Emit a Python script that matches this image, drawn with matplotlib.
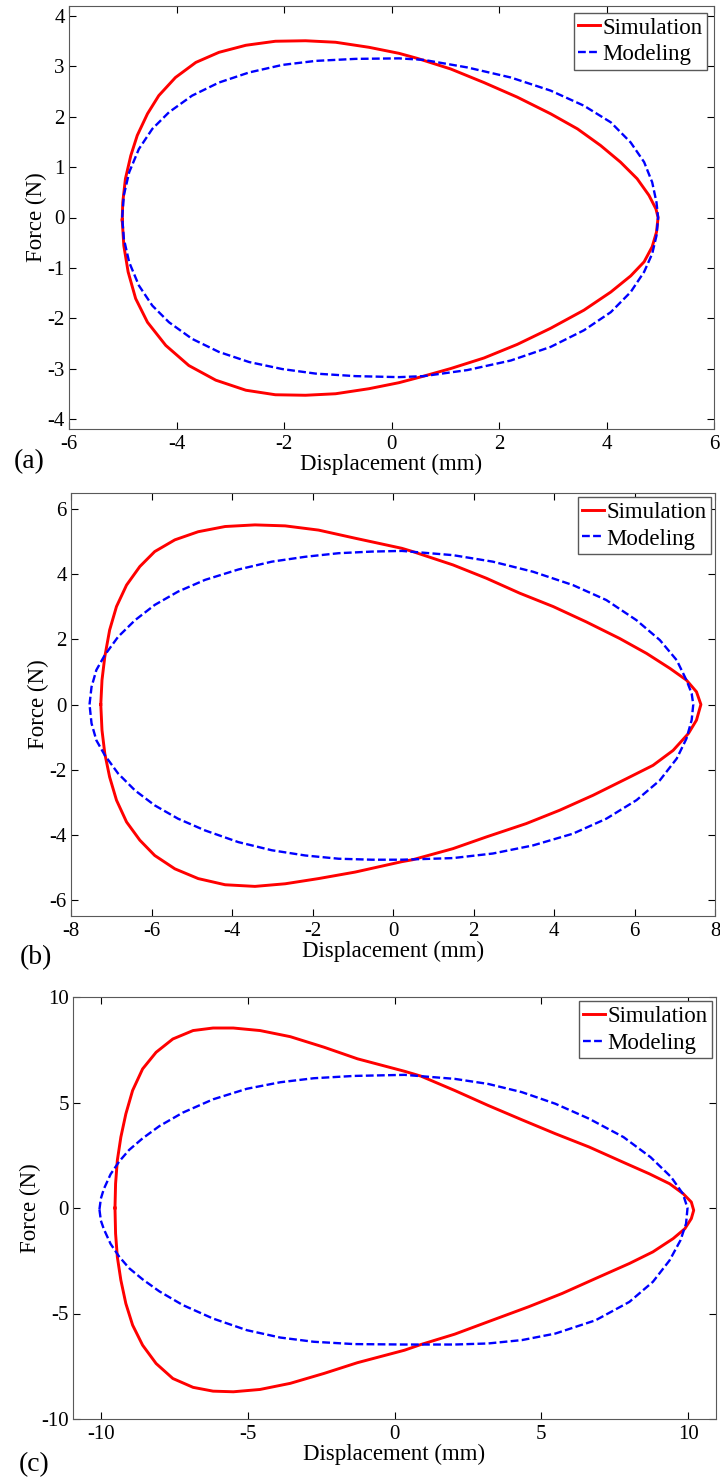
import numpy as np
import matplotlib
matplotlib.use("Agg")
import matplotlib.pyplot as plt

plt.rcParams['font.family'] = ['Liberation Serif', 'DejaVu Serif']
plt.rcParams['axes.unicode_minus'] = False

# ---- panel (a) ----  (loops: upper branch left->right, then lower branch right->left)
sim_a_x = [-5.01, -5.0, -4.95, -4.85, -4.73, -4.54, -4.33, -4.02, -3.64, -3.21, -2.71, -2.16, -1.6, -1.04,
           -0.42, 0.14, 0.48, 1.1, 1.72, 2.34, 2.96, 3.46, 3.89, 4.26, 4.57, 4.79, 4.92, 4.96,
           4.93, 4.85, 4.7, 4.45, 4.08, 3.58, 2.96, 2.34, 1.72, 1.1, 0.6, 0.14, -0.42, -1.04, -1.6,
           -2.16, -2.71, -3.27, -3.77, -4.2, -4.54, -4.76, -4.9, -4.98, -5.01]
sim_a_y = [-0.05, 0.3, 0.77, 1.23, 1.63, 2.06, 2.42, 2.78, 3.08, 3.28, 3.42, 3.5, 3.51, 3.48,
           3.38, 3.26, 3.16, 2.95, 2.68, 2.39, 2.06, 1.76, 1.43, 1.1, 0.77, 0.44, 0.17, 0.0,
           -0.29, -0.58, -0.88, -1.16, -1.48, -1.84, -2.2, -2.52, -2.79, -3.0, -3.15, -3.28, -3.4, -3.5, -3.53,
           -3.52, -3.43, -3.23, -2.94, -2.54, -2.08, -1.61, -1.08, -0.56, -0.05]
mod_a_x = [-5.01, -4.98, -4.88, -4.7, -4.45, -4.14, -3.71, -3.21, -2.65, -2.03, -1.41, -0.67, 0.14, 0.6,
           1.41, 2.22, 2.96, 3.58, 4.08, 4.45, 4.7, 4.85, 4.93, 4.96, 4.93, 4.85, 4.7, 4.45, 4.08,
           3.58, 2.96, 2.22, 1.41, 0.6, 0.14, -0.67, -1.41, -2.03, -2.65, -3.21, -3.71, -4.14, -4.45,
           -4.7, -4.88, -4.98, -5.01]
mod_a_y = [0.0, 0.44, 0.9, 1.36, 1.76, 2.09, 2.42, 2.68, 2.88, 3.03, 3.11, 3.15, 3.16, 3.13,
           2.98, 2.78, 2.52, 2.22, 1.89, 1.49, 1.1, 0.7, 0.3, 0.0, -0.36, -0.72, -1.08, -1.48, -1.88,
           -2.24, -2.57, -2.84, -3.03, -3.15, -3.17, -3.15, -3.1, -3.01, -2.87, -2.67, -2.41, -2.08, -1.75,
           -1.35, -0.89, -0.42, 0.0]

# ---- panel (b) ----
sim_b_x = [-7.26, -7.23, -7.16, -7.04, -6.87, -6.62, -6.29, -5.92, -5.42, -4.84, -4.17, -3.43, -2.68, -1.85,
           -0.94, 0.22, 0.49, 1.49, 2.32, 3.15, 3.98, 4.8, 5.63, 6.3, 6.88, 7.29, 7.54, 7.65,
           7.54, 7.34, 6.96, 6.46, 5.8, 4.97, 4.14, 3.31, 2.32, 1.49, 0.49, 0.22, -0.94, -1.85, -2.68,
           -3.43, -4.17, -4.84, -5.42, -5.92, -6.29, -6.62, -6.87, -7.04, -7.16, -7.23, -7.26]
sim_b_y = [0.0, 0.75, 1.47, 2.29, 3.01, 3.67, 4.24, 4.7, 5.06, 5.31, 5.47, 5.52, 5.49, 5.36,
           5.11, 4.8, 4.7, 4.29, 3.88, 3.42, 3.01, 2.54, 2.03, 1.57, 1.11, 0.75, 0.39, 0.0,
           -0.48, -0.89, -1.41, -1.87, -2.28, -2.79, -3.25, -3.66, -4.07, -4.43, -4.77, -4.83, -5.15, -5.35, -5.51,
           -5.59, -5.54, -5.35, -5.05, -4.64, -4.17, -3.61, -2.94, -2.23, -1.51, -0.79, 0.0]
mod_b_x = [-7.54, -7.49, -7.37, -7.16, -6.83, -6.41, -5.92, -5.34, -4.67, -3.84, -3.01, -2.18, -1.35, -0.52,
           0.22, 1.49, 2.48, 3.48, 4.47, 5.3, 6.05, 6.63, 7.05, 7.29, 7.42, 7.46, 7.42, 7.29, 7.05,
           6.63, 6.05, 5.3, 4.47, 3.48, 2.48, 1.49, 0.22, -0.52, -1.35, -2.18, -3.01, -3.84, -4.67,
           -5.34, -5.92, -6.41, -6.83, -7.16, -7.37, -7.49, -7.54]
mod_b_y = [0.0, 0.54, 1.06, 1.52, 2.08, 2.59, 3.06, 3.47, 3.83, 4.15, 4.39, 4.54, 4.65, 4.7,
           4.72, 4.59, 4.39, 4.08, 3.67, 3.21, 2.59, 1.98, 1.36, 0.75, 0.34, 0.0, -0.48, -1.05, -1.66,
           -2.33, -2.94, -3.51, -3.97, -4.33, -4.58, -4.72, -4.77, -4.77, -4.74, -4.64, -4.48, -4.23, -3.87,
           -3.51, -3.1, -2.64, -2.12, -1.56, -1.1, -0.58, 0.0]

# ---- panel (c) ----
sim_c_x = [-9.52, -9.5, -9.44, -9.32, -9.15, -8.92, -8.58, -8.12, -7.55, -6.86, -6.18, -5.49, -4.58, -3.55,
           -2.4, -1.26, 0.34, 0.9, 2.05, 3.19, 4.34, 5.48, 6.63, 7.77, 8.68, 9.37, 9.83, 10.11, 10.19,
           10.11, 9.89, 9.49, 8.8, 8.0, 6.85, 5.71, 4.57, 3.19, 2.05, 0.9, 0.34, -1.26, -2.4, -3.55,
           -4.58, -5.49, -6.18, -6.86, -7.55, -8.12, -8.58, -8.92, -9.15, -9.32, -9.44, -9.5, -9.52]
sim_c_y = [0.0, 1.15, 2.26, 3.36, 4.46, 5.57, 6.59, 7.38, 8.01, 8.41, 8.53, 8.53, 8.41, 8.12,
           7.62, 7.07, 6.48, 6.25, 5.57, 4.86, 4.18, 3.52, 2.89, 2.18, 1.62, 1.15, 0.68, 0.28, -0.11,
           -0.5, -0.98, -1.45, -2.08, -2.63, -3.34, -4.05, -4.68, -5.39, -5.98, -6.47, -6.74, -7.33, -7.84, -8.31,
           -8.6, -8.71, -8.68, -8.5, -8.08, -7.37, -6.5, -5.55, -4.53, -3.42, -2.32, -1.21, 0.0]
mod_c_x = [-10.05, -10.0, -9.9, -9.67, -9.38, -9.04, -8.58, -8.01, -7.21, -6.18, -5.03, -3.89, -2.75, -1.37,
           0.34, 2.05, 3.19, 4.34, 5.48, 6.63, 7.8, 8.72, 9.42, 9.82, 9.98, 9.93, 9.74, 9.37, 8.8,
           8.0, 6.85, 5.48, 4.34, 3.19, 2.05, 0.34, -1.37, -2.75, -3.89, -5.03, -6.18, -7.21, -8.01,
           -8.58, -9.04, -9.38, -9.67, -9.9, -10.0, -10.05]
mod_c_y = [-0.07, 0.45, 0.9, 1.6, 2.2, 2.75, 3.3, 3.88, 4.52, 5.15, 5.65, 5.96, 6.15, 6.26,
           6.31, 6.12, 5.88, 5.49, 4.94, 4.23, 3.36, 2.41, 1.47, 0.68, 0.0, -0.74, -1.53, -2.48, -3.5,
           -4.45, -5.32, -5.95, -6.26, -6.42, -6.47, -6.47, -6.45, -6.34, -6.14, -5.79, -5.24, -4.6, -3.95,
           -3.38, -2.85, -2.3, -1.7, -1.0, -0.6, -0.07]

panels = [
    ("(a)", sim_a_x, sim_a_y, mod_a_x, mod_a_y, (-6, 6), (-4.2, 4.2),
     [-6, -4, -2, 0, 2, 4, 6], [-4, -3, -2, -1, 0, 1, 2, 3, 4]),
    ("(b)", sim_b_x, sim_b_y, mod_b_x, mod_b_y, (-8, 8), (-6.5, 6.5),
     [-8, -6, -4, -2, 0, 2, 4, 6, 8], [-6, -4, -2, 0, 2, 4, 6]),
    ("(c)", sim_c_x, sim_c_y, mod_c_x, mod_c_y, (-10.95, 10.95), (-10, 10),
     [-10, -5, 0, 5, 10], [-10, -5, 0, 5, 10]),
]

W, H = 720, 1484
fig = plt.figure(figsize=(W / 100, H / 100), dpi=100)

# axes boxes in pixels: left, top, right, bottom
boxes = [(69, 6, 714, 429), (71, 493, 715, 916), (73, 997, 716, 1419)]
tags = [(29, 462), (36, 958), (34, 1465)]
leg_pad = [0.3, 0.18, 0.18]

for i, (tag, sx, sy, mx, my, xl, yl, xt, yt) in enumerate(panels):
    l, t, r, b = boxes[i]
    ax = fig.add_axes([l / W, 1 - b / H, (r - l) / W, (b - t) / H])
    ax.plot(sx, sy, color='red', lw=2.1, label='Simulation', solid_joinstyle='round')
    ax.plot(mx, my, color='blue', lw=1.7, ls=(0, (3.3, 1.4)), label='Modeling')
    ax.set_xlim(*xl)
    ax.set_ylim(*yl)
    ax.set_xticks(xt)
    ax.set_yticks(yt)
    ax.tick_params(direction='in', top=True, right=True, length=5, width=0.8,
                   labelsize=15, pad=4)
    ax.tick_params(axis='y', pad=3)
    for s in ax.spines.values():
        s.set_linewidth(0.8)
        s.set_color('0.35')
    ax.set_xlabel('Displacement (mm)', fontsize=16.5, labelpad=0)
    ax.set_ylabel('Force (N)', fontsize=16.5, labelpad=0)
    ax.legend(loc='upper right', fontsize=16.5, handlelength=0.95, handletextpad=0.1,
              labelspacing=0.25, borderpad=0.2, borderaxespad=leg_pad[i],
              fancybox=False, edgecolor='0.35', framealpha=1)
    fig.text(tags[i][0] / W, 1 - tags[i][1] / H, tag, fontsize=20, ha='center', va='center')

fig.savefig('out.png', dpi=100)
